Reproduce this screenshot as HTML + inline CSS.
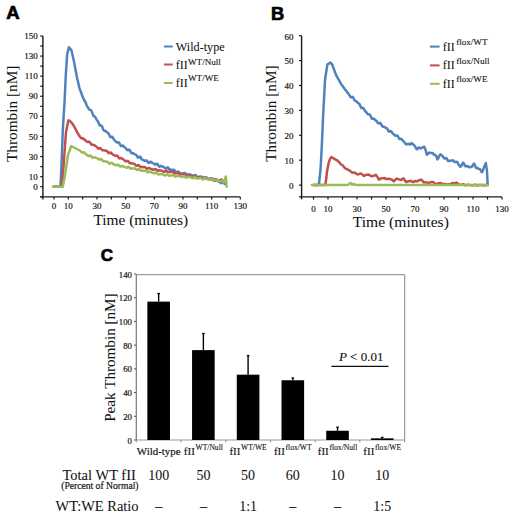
<!DOCTYPE html>
<html><head><meta charset="utf-8"><style>
html,body{margin:0;padding:0;background:#fff;width:520px;height:517px;overflow:hidden}
svg{position:absolute;left:0;top:0;display:block}
</style></head><body>
<svg width="520" height="517" viewBox="0 0 520 517">
<rect width="520" height="517" fill="#fff"/>
<text x="6.20" y="19.00" font-family="&quot;Liberation Sans&quot;, sans-serif" font-size="18.5" font-weight="bold" text-anchor="start" fill="#000" stroke="#000" stroke-width="0.7" >A</text>
<line x1="42.90" y1="36.00" x2="42.90" y2="199.40" stroke="#1a1a1a" stroke-width="1.4"/>
<line x1="40.20" y1="196.90" x2="240.29" y2="196.90" stroke="#1a1a1a" stroke-width="1.4"/>
<line x1="40.20" y1="196.75" x2="42.90" y2="196.75" stroke="#1a1a1a" stroke-width="1.2"/>
<line x1="40.20" y1="186.70" x2="42.90" y2="186.70" stroke="#1a1a1a" stroke-width="1.2"/>
<line x1="40.20" y1="176.65" x2="42.90" y2="176.65" stroke="#1a1a1a" stroke-width="1.2"/>
<line x1="40.20" y1="166.61" x2="42.90" y2="166.61" stroke="#1a1a1a" stroke-width="1.2"/>
<line x1="40.20" y1="156.56" x2="42.90" y2="156.56" stroke="#1a1a1a" stroke-width="1.2"/>
<line x1="40.20" y1="146.51" x2="42.90" y2="146.51" stroke="#1a1a1a" stroke-width="1.2"/>
<line x1="40.20" y1="136.46" x2="42.90" y2="136.46" stroke="#1a1a1a" stroke-width="1.2"/>
<line x1="40.20" y1="126.42" x2="42.90" y2="126.42" stroke="#1a1a1a" stroke-width="1.2"/>
<line x1="40.20" y1="116.37" x2="42.90" y2="116.37" stroke="#1a1a1a" stroke-width="1.2"/>
<line x1="40.20" y1="106.32" x2="42.90" y2="106.32" stroke="#1a1a1a" stroke-width="1.2"/>
<line x1="40.20" y1="96.28" x2="42.90" y2="96.28" stroke="#1a1a1a" stroke-width="1.2"/>
<line x1="40.20" y1="86.23" x2="42.90" y2="86.23" stroke="#1a1a1a" stroke-width="1.2"/>
<line x1="40.20" y1="76.18" x2="42.90" y2="76.18" stroke="#1a1a1a" stroke-width="1.2"/>
<line x1="40.20" y1="66.14" x2="42.90" y2="66.14" stroke="#1a1a1a" stroke-width="1.2"/>
<line x1="40.20" y1="56.09" x2="42.90" y2="56.09" stroke="#1a1a1a" stroke-width="1.2"/>
<line x1="40.20" y1="46.04" x2="42.90" y2="46.04" stroke="#1a1a1a" stroke-width="1.2"/>
<line x1="40.20" y1="36.00" x2="42.90" y2="36.00" stroke="#1a1a1a" stroke-width="1.2"/>
<text x="37.80" y="39.10" font-family="&quot;Liberation Serif&quot;, serif" font-size="9" font-weight="normal" text-anchor="end" fill="#111" stroke="#111" stroke-width="0.18" >150</text>
<text x="37.80" y="59.19" font-family="&quot;Liberation Serif&quot;, serif" font-size="9" font-weight="normal" text-anchor="end" fill="#111" stroke="#111" stroke-width="0.18" >130</text>
<text x="37.80" y="79.28" font-family="&quot;Liberation Serif&quot;, serif" font-size="9" font-weight="normal" text-anchor="end" fill="#111" stroke="#111" stroke-width="0.18" >110</text>
<text x="37.80" y="99.38" font-family="&quot;Liberation Serif&quot;, serif" font-size="9" font-weight="normal" text-anchor="end" fill="#111" stroke="#111" stroke-width="0.18" >90</text>
<text x="37.80" y="119.47" font-family="&quot;Liberation Serif&quot;, serif" font-size="9" font-weight="normal" text-anchor="end" fill="#111" stroke="#111" stroke-width="0.18" >70</text>
<text x="37.80" y="139.56" font-family="&quot;Liberation Serif&quot;, serif" font-size="9" font-weight="normal" text-anchor="end" fill="#111" stroke="#111" stroke-width="0.18" >50</text>
<text x="37.80" y="159.66" font-family="&quot;Liberation Serif&quot;, serif" font-size="9" font-weight="normal" text-anchor="end" fill="#111" stroke="#111" stroke-width="0.18" >30</text>
<text x="37.80" y="179.75" font-family="&quot;Liberation Serif&quot;, serif" font-size="9" font-weight="normal" text-anchor="end" fill="#111" stroke="#111" stroke-width="0.18" >10</text>
<text x="37.80" y="189.80" font-family="&quot;Liberation Serif&quot;, serif" font-size="9" font-weight="normal" text-anchor="end" fill="#111" stroke="#111" stroke-width="0.18" >0</text>
<line x1="54.00" y1="196.90" x2="54.00" y2="199.60" stroke="#1a1a1a" stroke-width="1.2"/>
<line x1="68.33" y1="196.90" x2="68.33" y2="199.60" stroke="#1a1a1a" stroke-width="1.2"/>
<line x1="82.66" y1="196.90" x2="82.66" y2="199.60" stroke="#1a1a1a" stroke-width="1.2"/>
<line x1="96.99" y1="196.90" x2="96.99" y2="199.60" stroke="#1a1a1a" stroke-width="1.2"/>
<line x1="111.32" y1="196.90" x2="111.32" y2="199.60" stroke="#1a1a1a" stroke-width="1.2"/>
<line x1="125.65" y1="196.90" x2="125.65" y2="199.60" stroke="#1a1a1a" stroke-width="1.2"/>
<line x1="139.98" y1="196.90" x2="139.98" y2="199.60" stroke="#1a1a1a" stroke-width="1.2"/>
<line x1="154.31" y1="196.90" x2="154.31" y2="199.60" stroke="#1a1a1a" stroke-width="1.2"/>
<line x1="168.64" y1="196.90" x2="168.64" y2="199.60" stroke="#1a1a1a" stroke-width="1.2"/>
<line x1="182.97" y1="196.90" x2="182.97" y2="199.60" stroke="#1a1a1a" stroke-width="1.2"/>
<line x1="197.30" y1="196.90" x2="197.30" y2="199.60" stroke="#1a1a1a" stroke-width="1.2"/>
<line x1="211.63" y1="196.90" x2="211.63" y2="199.60" stroke="#1a1a1a" stroke-width="1.2"/>
<line x1="225.96" y1="196.90" x2="225.96" y2="199.60" stroke="#1a1a1a" stroke-width="1.2"/>
<line x1="240.29" y1="196.90" x2="240.29" y2="199.60" stroke="#1a1a1a" stroke-width="1.2"/>
<text x="54.00" y="208.60" font-family="&quot;Liberation Serif&quot;, serif" font-size="9" font-weight="normal" text-anchor="middle" fill="#111" stroke="#111" stroke-width="0.18" >0</text>
<text x="68.33" y="208.60" font-family="&quot;Liberation Serif&quot;, serif" font-size="9" font-weight="normal" text-anchor="middle" fill="#111" stroke="#111" stroke-width="0.18" >10</text>
<text x="96.99" y="208.60" font-family="&quot;Liberation Serif&quot;, serif" font-size="9" font-weight="normal" text-anchor="middle" fill="#111" stroke="#111" stroke-width="0.18" >30</text>
<text x="125.65" y="208.60" font-family="&quot;Liberation Serif&quot;, serif" font-size="9" font-weight="normal" text-anchor="middle" fill="#111" stroke="#111" stroke-width="0.18" >50</text>
<text x="154.31" y="208.60" font-family="&quot;Liberation Serif&quot;, serif" font-size="9" font-weight="normal" text-anchor="middle" fill="#111" stroke="#111" stroke-width="0.18" >70</text>
<text x="182.97" y="208.60" font-family="&quot;Liberation Serif&quot;, serif" font-size="9" font-weight="normal" text-anchor="middle" fill="#111" stroke="#111" stroke-width="0.18" >90</text>
<text x="211.63" y="208.60" font-family="&quot;Liberation Serif&quot;, serif" font-size="9" font-weight="normal" text-anchor="middle" fill="#111" stroke="#111" stroke-width="0.18" >110</text>
<text x="240.29" y="208.60" font-family="&quot;Liberation Serif&quot;, serif" font-size="9" font-weight="normal" text-anchor="middle" fill="#111" stroke="#111" stroke-width="0.18" >130</text>
<text x="0.00" y="0.00" font-family="&quot;Liberation Serif&quot;, serif" font-size="15.3" font-weight="normal" text-anchor="start" fill="#111" stroke="#111" stroke-width="0.05" transform="translate(16.8,162.1) rotate(-90)">Thrombin [nM]</text>
<text x="93.40" y="225.00" font-family="&quot;Liberation Serif&quot;, serif" font-size="15.4" font-weight="normal" text-anchor="start" fill="#111" stroke="#111" stroke-width="0.05" >Time (minutes)</text>
<polyline points="53.90,186.70 55.00,186.70 56.10,186.70 57.20,186.70 58.30,186.70 59.40,186.70 60.50,186.70 60.55,185.67 60.60,184.63 60.64,183.60 60.69,182.57 60.74,181.53 60.79,180.50 60.83,179.47 60.88,178.43 60.93,177.40 60.98,176.37 61.02,175.33 61.07,174.30 61.12,173.27 61.17,172.23 61.21,171.20 61.26,170.17 61.31,169.13 61.36,168.10 61.40,167.07 61.45,166.03 61.50,165.00 61.54,164.00 61.57,163.00 61.61,162.00 61.65,161.00 61.69,160.00 61.72,159.00 61.76,158.00 61.80,157.00 61.83,156.00 61.87,155.00 61.91,154.00 61.95,153.00 61.98,152.00 62.02,151.00 62.06,150.00 62.09,149.00 62.13,148.00 62.17,147.00 62.21,146.00 62.24,145.00 62.28,144.00 62.32,143.00 62.35,142.00 62.39,141.00 62.43,140.00 62.47,139.00 62.50,138.00 62.54,137.00 62.58,136.00 62.61,135.00 62.65,134.00 62.69,133.00 62.73,132.00 62.76,131.00 62.80,130.00 62.86,129.00 62.92,128.00 62.99,127.00 63.05,126.00 63.11,125.00 63.17,124.00 63.23,123.00 63.30,122.00 63.36,121.00 63.42,120.00 63.48,119.00 63.54,118.00 63.61,117.00 63.67,116.00 63.73,115.00 63.79,114.00 63.86,113.00 63.92,112.00 63.98,111.00 64.04,110.00 64.10,109.00 64.17,108.00 64.23,107.00 64.29,106.00 64.35,105.00 64.41,104.00 64.48,103.00 64.54,102.00 64.60,101.00 64.65,99.99 64.69,98.98 64.74,97.98 64.78,96.97 64.83,95.96 64.88,94.95 64.92,93.95 64.97,92.94 65.02,91.93 65.06,90.92 65.11,89.92 65.15,88.91 65.20,87.90 65.25,86.89 65.29,85.88 65.34,84.88 65.38,83.87 65.43,82.86 65.48,81.85 65.52,80.85 65.57,79.84 65.62,78.83 65.66,77.82 65.71,76.82 65.75,75.81 65.80,74.80 65.87,73.75 65.94,72.71 66.01,71.66 66.08,70.62 66.15,69.58 66.22,68.53 66.29,67.48 66.36,66.44 66.43,65.39 66.50,64.35 66.57,63.30 66.64,62.26 66.71,61.21 66.78,60.17 66.85,59.12 66.92,58.08 66.99,57.03 67.06,55.99 67.13,54.95 67.20,53.90 67.48,52.80 67.77,51.70 68.05,50.60 68.33,49.50 68.62,48.40 68.90,47.30 69.55,48.07 70.20,48.85 70.85,49.62 71.50,50.40 71.72,51.42 71.95,52.43 72.17,53.45 72.40,54.47 72.62,55.48 72.85,56.50 73.08,57.52 73.30,58.53 73.53,59.55 73.75,60.57 73.98,61.58 74.20,62.60 74.39,63.60 74.57,64.60 74.76,65.60 74.94,66.60 75.13,67.60 75.31,68.60 75.50,69.60 75.69,70.60 75.87,71.60 76.06,72.60 76.24,73.60 76.43,74.60 76.61,75.60 76.80,76.60 77.04,77.63 77.27,78.65 77.51,79.68 77.75,80.71 77.98,81.74 78.22,82.76 78.45,83.79 78.69,84.82 78.93,85.85 79.16,86.87 79.40,87.90 79.75,88.86 80.10,89.82 80.45,90.78 80.80,91.74 81.15,92.70 81.50,93.66 81.85,94.62 82.20,95.58 82.55,96.54 82.90,97.50 83.38,98.47 83.86,99.43 84.33,100.40 84.81,101.37 85.29,101.62 85.77,103.02 86.24,104.35 86.72,105.46 87.20,106.40 87.85,107.27 88.50,108.37 89.15,109.39 89.80,109.86 90.45,109.91 91.10,110.25 91.75,111.49 92.40,113.38 92.95,114.96 93.50,115.91 94.05,116.27 94.60,116.47 95.15,116.96 95.70,117.85 96.25,118.92 96.80,119.89 97.41,120.70 98.02,121.63 98.63,122.93 99.24,124.37 99.85,125.40 100.46,125.68 101.07,125.59 101.68,125.88 102.29,127.03 102.90,128.76 103.68,130.26 104.45,130.76 105.22,130.90 106.00,131.43 106.75,132.16 107.51,132.55 108.26,133.03 109.02,134.34 109.77,136.12 110.52,137.14 111.28,136.96 112.03,136.65 112.78,137.38 113.54,138.91 114.29,140.17 115.05,140.86 115.80,141.56 116.67,142.34 117.55,142.54 118.42,142.23 119.29,142.93 120.16,144.87 121.04,146.11 121.91,145.81 122.78,145.51 123.65,146.30 124.53,147.29 125.40,147.90 126.28,148.86 127.16,150.07 128.05,150.22 128.93,149.58 129.81,150.07 130.69,151.95 131.57,153.28 132.45,153.30 133.34,153.34 134.22,153.99 135.10,154.44 136.00,154.78 136.90,156.09 137.80,157.54 138.70,157.47 139.60,156.64 140.50,157.17 141.40,158.79 142.30,159.72 143.20,159.96 144.10,160.49 145.00,160.89 145.97,160.34 146.93,160.66 147.90,162.36 148.87,163.04 149.83,162.03 150.80,161.70 151.77,162.61 152.73,163.20 153.70,163.56 154.66,164.43 155.61,164.52 156.57,163.65 157.52,163.99 158.48,165.81 159.43,166.65 160.39,166.08 161.34,166.00 162.30,166.56 163.27,166.70 164.23,167.29 165.20,168.57 166.17,168.63 167.13,167.44 168.10,167.55 169.07,169.11 170.03,169.80 171.00,169.58 171.96,169.86 172.91,170.02 173.87,169.77 174.82,170.61 175.78,172.33 176.73,172.59 177.69,171.55 178.64,171.65 179.60,172.88 180.69,173.36 181.78,173.64 182.86,174.06 183.95,173.19 185.04,172.97 186.12,174.76 187.21,175.35 188.30,174.29 189.38,174.33 190.45,174.84 191.53,175.05 192.60,176.08 193.68,176.39 194.75,175.07 195.83,175.18 196.90,176.89 197.99,177.15 199.07,176.65 200.16,176.84 201.25,176.59 202.34,176.96 203.43,178.55 204.51,178.43 205.60,177.07 206.67,177.64 207.75,178.85 208.82,178.96 209.90,179.25 210.97,179.23 212.05,178.40 213.12,179.18 214.20,180.90 215.19,180.78 216.17,179.93 217.16,180.39 218.14,181.23 219.13,181.62 220.11,182.49 221.10,183.17 222.27,182.05 223.43,182.07 224.60,184.04 226.00,182.35" fill="none" stroke="#4f81bd" stroke-width="2.5" stroke-linejoin="round" stroke-linecap="round"/>
<polyline points="53.90,186.70 54.91,186.70 55.92,186.70 56.94,186.70 57.95,186.70 58.96,186.70 59.98,186.70 60.99,186.70 62.00,186.70 62.08,185.67 62.15,184.65 62.23,183.62 62.31,182.59 62.38,181.57 62.46,180.54 62.54,179.51 62.62,178.48 62.69,177.46 62.77,176.43 62.85,175.40 62.92,174.38 63.00,173.35 63.08,172.32 63.15,171.30 63.23,170.27 63.31,169.24 63.38,168.22 63.46,167.19 63.54,166.16 63.62,165.13 63.69,164.11 63.77,163.08 63.85,162.05 63.92,161.03 64.00,160.00 64.07,159.00 64.14,158.00 64.21,157.00 64.29,156.00 64.36,155.00 64.43,154.00 64.50,153.00 64.57,152.00 64.64,151.00 64.71,150.00 64.79,149.00 64.86,148.00 64.93,147.00 65.00,146.00 65.07,145.00 65.14,144.00 65.21,143.00 65.29,142.00 65.36,141.00 65.43,140.00 65.50,139.00 65.57,138.00 65.64,137.00 65.71,136.00 65.79,135.00 65.86,134.00 65.93,133.00 66.00,132.00 66.20,131.02 66.40,130.03 66.60,129.05 66.80,128.07 67.00,127.08 67.20,126.10 67.40,125.12 67.60,124.13 67.80,123.15 68.00,122.17 68.20,121.18 68.40,120.20 69.45,120.85 70.50,121.50 71.17,122.33 71.85,123.15 72.53,123.97 73.20,124.80 73.76,125.84 74.32,126.88 74.88,127.92 75.44,128.96 76.00,130.00 76.50,130.92 77.00,131.83 77.50,132.75 78.00,133.67 78.50,134.58 79.00,135.50 79.80,136.20 80.60,137.66 81.40,138.34 82.20,138.19 83.00,138.35 83.95,139.24 84.90,140.16 85.85,140.69 86.80,141.50 87.75,142.10 88.70,141.81 89.58,141.86 90.46,143.13 91.35,144.53 92.23,144.83 93.11,144.65 93.99,145.04 94.87,145.71 95.75,146.15 96.64,146.88 97.52,148.07 98.40,148.64 99.36,147.98 100.32,147.93 101.28,149.19 102.24,150.13 103.20,150.17 104.16,150.36 105.12,150.68 106.08,150.62 107.04,151.09 108.00,152.46 108.97,153.16 109.94,152.60 110.91,152.62 111.88,153.72 112.85,154.53 113.82,154.95 114.79,155.63 115.76,155.87 116.73,155.52 117.70,156.15 118.67,157.76 119.64,158.40 120.61,158.00 121.58,158.21 122.55,159.00 123.52,159.49 124.49,160.24 125.46,161.29 126.43,161.35 127.40,160.81 128.36,161.40 129.32,162.82 130.28,163.30 131.24,163.13 132.20,163.40 133.16,163.68 134.12,163.76 135.08,164.63 136.04,165.84 137.00,165.80 138.00,164.99 139.00,165.45 140.00,166.53 141.00,166.83 142.00,167.03 143.00,167.35 144.00,167.03 145.00,166.98 146.09,168.27 147.18,168.94 148.26,168.10 149.35,168.04 150.44,168.72 151.52,168.97 152.61,169.57 153.70,169.88 154.77,169.04 155.85,169.13 156.93,170.53 158.00,170.83 159.07,170.31 160.15,170.48 161.23,170.61 162.30,170.84 163.39,171.83 164.48,171.86 165.56,170.75 166.65,171.01 167.74,172.07 168.82,172.08 169.91,172.00 171.00,172.01 172.07,171.61 173.15,172.15 174.22,173.46 175.30,173.24 176.38,172.43 177.45,172.95 178.53,173.62 179.60,173.83 180.69,174.38 181.78,174.22 182.86,173.54 183.95,174.42 185.04,175.64 186.12,175.25 187.21,174.89 188.30,175.32 189.38,175.47 190.45,176.06 191.53,176.89 192.60,176.29 193.68,175.67 194.75,176.73 195.83,177.58 196.90,177.34 197.99,177.34 199.07,177.28 200.16,177.08 201.25,178.07 202.34,178.81 203.43,177.88 204.51,177.53 205.60,178.44 206.67,178.77 207.75,178.87 208.82,179.11 209.90,178.49 210.97,178.30 212.05,179.57 213.12,180.04 214.20,179.17 215.24,179.09 216.28,179.55 217.32,179.68 218.36,180.24 219.40,180.68 220.44,179.86 221.48,179.45 222.52,180.58 223.56,181.24 224.60,180.78 226.00,180.88" fill="none" stroke="#c0504d" stroke-width="2.5" stroke-linejoin="round" stroke-linecap="round"/>
<polyline points="53.00,186.70 54.09,186.70 55.18,186.70 56.27,186.70 57.36,186.70 58.44,186.70 59.53,186.70 60.62,186.70 61.71,186.70 62.80,186.70 63.00,185.64 63.20,184.57 63.40,183.51 63.60,182.45 63.80,181.38 64.00,180.32 64.20,179.25 64.40,178.19 64.60,177.13 64.80,176.06 65.00,175.00 65.15,174.00 65.30,173.00 65.45,172.00 65.60,171.00 65.75,170.00 65.90,169.00 66.05,168.00 66.20,167.00 66.35,166.00 66.50,165.00 66.65,164.00 66.80,163.00 66.95,162.00 67.10,161.00 67.25,160.00 67.40,159.00 67.55,158.00 67.70,157.00 67.85,156.00 68.00,155.00 68.37,154.01 68.73,153.02 69.10,152.03 69.47,151.04 69.83,150.06 70.20,149.07 70.57,148.08 70.93,147.09 71.30,146.10 72.22,146.57 73.15,147.05 74.08,147.53 75.00,148.00 76.00,148.50 77.00,149.00 78.00,149.50 79.00,150.00 79.88,150.53 80.76,150.99 81.65,152.40 82.53,152.71 83.41,152.26 84.29,152.52 85.17,153.56 86.05,154.36 86.94,154.87 87.82,155.64 88.70,156.21 89.67,155.69 90.64,155.55 91.61,156.79 92.58,157.78 93.55,157.45 94.52,157.16 95.49,157.61 96.46,157.91 97.43,158.28 98.40,159.24 99.36,159.70 100.32,159.04 101.28,158.99 102.24,160.25 103.20,161.20 104.16,161.20 105.12,161.34 106.08,161.67 107.04,161.64 108.00,162.11 108.97,163.37 109.94,163.85 110.91,163.08 111.88,162.92 112.85,163.87 113.82,164.51 114.79,164.71 115.76,165.16 116.73,165.21 117.70,164.71 118.78,165.21 119.86,166.61 120.93,166.52 122.01,165.83 123.09,166.23 124.17,166.64 125.24,166.98 126.32,167.79 127.40,167.61 128.47,166.77 129.53,167.48 130.60,168.69 131.67,168.55 132.73,168.30 133.80,168.53 134.87,168.44 135.93,169.00 137.00,170.11 138.00,169.87 139.00,169.01 140.00,169.48 141.00,170.51 142.00,170.72 143.00,170.82 144.00,171.06 145.00,170.69 146.02,170.63 147.04,171.87 148.05,172.57 149.07,171.82 150.09,171.53 151.11,172.21 152.12,172.57 153.14,172.91 154.16,173.51 155.18,173.18 156.19,172.50 157.21,173.30 158.23,174.51 159.25,174.36 160.26,173.93 161.28,174.20 162.30,174.32 163.32,174.50 164.34,175.40 165.35,175.49 166.37,174.44 167.39,174.38 168.41,175.45 169.42,175.76 170.44,175.50 171.46,175.59 172.48,175.33 173.49,175.06 174.51,175.99 175.53,176.80 176.55,176.04 177.56,175.39 178.58,175.99 179.60,176.47 180.62,176.55 181.64,176.92 182.65,176.72 183.67,175.93 184.69,176.37 185.71,177.60 186.72,177.54 187.74,176.79 188.76,176.89 189.78,177.14 190.79,177.24 191.81,177.94 192.83,178.24 193.85,177.29 194.86,176.97 195.88,178.06 196.90,178.60 197.92,178.21 198.94,178.16 199.95,178.13 200.97,177.88 201.99,178.56 203.01,179.51 204.02,178.95 205.04,178.09 206.06,178.61 207.08,179.34 208.09,179.37 209.11,179.55 210.13,179.54 211.15,178.86 212.16,179.04 213.18,180.30 214.20,180.49 215.29,179.65 216.38,179.80 217.47,180.34 218.56,180.57 219.64,181.30 220.73,181.38 221.82,180.46 222.91,180.89 224.00,182.22 224.36,181.30 224.72,180.19 225.08,178.94 225.44,177.66 225.80,176.44 225.88,177.45 225.96,178.48 226.04,179.50 226.12,180.54 226.20,181.57 226.28,182.61 226.36,183.66 226.44,184.71 226.52,185.76 226.60,186.82" fill="none" stroke="#9bbb59" stroke-width="2.5" stroke-linejoin="round" stroke-linecap="round"/>
<line x1="163.90" y1="46.50" x2="172.70" y2="46.50" stroke="#4f81bd" stroke-width="2.0"/>
<text x="175.80" y="50.60" font-family="&quot;Liberation Serif&quot;, serif" font-size="12.2" font-weight="normal" text-anchor="start" fill="#111" stroke="#111" stroke-width="0.05" >Wild-type</text>
<line x1="163.90" y1="64.50" x2="172.70" y2="64.50" stroke="#c0504d" stroke-width="2.0"/>
<text x="175.80" y="68.60" font-family="&quot;Liberation Serif&quot;, serif" font-size="12" font-weight="normal" text-anchor="start" fill="#111" stroke="#111" stroke-width="0.05" >fII</text>
<text x="188.00" y="65.00" font-family="&quot;Liberation Serif&quot;, serif" font-size="9.1" font-weight="normal" text-anchor="start" fill="#111" stroke="#111" stroke-width="0.12" >WT/Null</text>
<line x1="163.90" y1="83.00" x2="172.70" y2="83.00" stroke="#9bbb59" stroke-width="2.0"/>
<text x="175.80" y="86.60" font-family="&quot;Liberation Serif&quot;, serif" font-size="12" font-weight="normal" text-anchor="start" fill="#111" stroke="#111" stroke-width="0.05" >fII</text>
<text x="188.00" y="80.80" font-family="&quot;Liberation Serif&quot;, serif" font-size="9.1" font-weight="normal" text-anchor="start" fill="#111" stroke="#111" stroke-width="0.12" >WT/WE</text>
<text x="271.10" y="19.90" font-family="&quot;Liberation Sans&quot;, sans-serif" font-size="18.3" font-weight="bold" text-anchor="start" fill="#000" stroke="#000" stroke-width="0.7" >B</text>
<line x1="301.60" y1="35.70" x2="301.60" y2="199.40" stroke="#1a1a1a" stroke-width="1.4"/>
<line x1="299.00" y1="196.90" x2="502.00" y2="196.90" stroke="#1a1a1a" stroke-width="1.4"/>
<line x1="299.00" y1="185.10" x2="301.60" y2="185.10" stroke="#1a1a1a" stroke-width="1.2"/>
<text x="293.60" y="188.90" font-family="&quot;Liberation Serif&quot;, serif" font-size="9" font-weight="normal" text-anchor="end" fill="#111" stroke="#111" stroke-width="0.18" >0</text>
<line x1="299.00" y1="160.20" x2="301.60" y2="160.20" stroke="#1a1a1a" stroke-width="1.2"/>
<text x="293.60" y="164.00" font-family="&quot;Liberation Serif&quot;, serif" font-size="9" font-weight="normal" text-anchor="end" fill="#111" stroke="#111" stroke-width="0.18" >10</text>
<line x1="299.00" y1="135.30" x2="301.60" y2="135.30" stroke="#1a1a1a" stroke-width="1.2"/>
<text x="293.60" y="139.10" font-family="&quot;Liberation Serif&quot;, serif" font-size="9" font-weight="normal" text-anchor="end" fill="#111" stroke="#111" stroke-width="0.18" >20</text>
<line x1="299.00" y1="110.40" x2="301.60" y2="110.40" stroke="#1a1a1a" stroke-width="1.2"/>
<text x="293.60" y="114.20" font-family="&quot;Liberation Serif&quot;, serif" font-size="9" font-weight="normal" text-anchor="end" fill="#111" stroke="#111" stroke-width="0.18" >30</text>
<line x1="299.00" y1="85.50" x2="301.60" y2="85.50" stroke="#1a1a1a" stroke-width="1.2"/>
<text x="293.60" y="89.30" font-family="&quot;Liberation Serif&quot;, serif" font-size="9" font-weight="normal" text-anchor="end" fill="#111" stroke="#111" stroke-width="0.18" >40</text>
<line x1="299.00" y1="60.60" x2="301.60" y2="60.60" stroke="#1a1a1a" stroke-width="1.2"/>
<text x="293.60" y="64.40" font-family="&quot;Liberation Serif&quot;, serif" font-size="9" font-weight="normal" text-anchor="end" fill="#111" stroke="#111" stroke-width="0.18" >50</text>
<line x1="299.00" y1="35.70" x2="301.60" y2="35.70" stroke="#1a1a1a" stroke-width="1.2"/>
<text x="293.60" y="39.50" font-family="&quot;Liberation Serif&quot;, serif" font-size="9" font-weight="normal" text-anchor="end" fill="#111" stroke="#111" stroke-width="0.18" >60</text>
<line x1="313.50" y1="196.90" x2="313.50" y2="199.60" stroke="#1a1a1a" stroke-width="1.2"/>
<line x1="328.00" y1="196.90" x2="328.00" y2="199.60" stroke="#1a1a1a" stroke-width="1.2"/>
<line x1="342.50" y1="196.90" x2="342.50" y2="199.60" stroke="#1a1a1a" stroke-width="1.2"/>
<line x1="357.00" y1="196.90" x2="357.00" y2="199.60" stroke="#1a1a1a" stroke-width="1.2"/>
<line x1="371.50" y1="196.90" x2="371.50" y2="199.60" stroke="#1a1a1a" stroke-width="1.2"/>
<line x1="386.00" y1="196.90" x2="386.00" y2="199.60" stroke="#1a1a1a" stroke-width="1.2"/>
<line x1="400.50" y1="196.90" x2="400.50" y2="199.60" stroke="#1a1a1a" stroke-width="1.2"/>
<line x1="415.00" y1="196.90" x2="415.00" y2="199.60" stroke="#1a1a1a" stroke-width="1.2"/>
<line x1="429.50" y1="196.90" x2="429.50" y2="199.60" stroke="#1a1a1a" stroke-width="1.2"/>
<line x1="444.00" y1="196.90" x2="444.00" y2="199.60" stroke="#1a1a1a" stroke-width="1.2"/>
<line x1="458.50" y1="196.90" x2="458.50" y2="199.60" stroke="#1a1a1a" stroke-width="1.2"/>
<line x1="473.00" y1="196.90" x2="473.00" y2="199.60" stroke="#1a1a1a" stroke-width="1.2"/>
<line x1="487.50" y1="196.90" x2="487.50" y2="199.60" stroke="#1a1a1a" stroke-width="1.2"/>
<line x1="502.00" y1="196.90" x2="502.00" y2="199.60" stroke="#1a1a1a" stroke-width="1.2"/>
<text x="313.50" y="211.80" font-family="&quot;Liberation Serif&quot;, serif" font-size="9" font-weight="normal" text-anchor="middle" fill="#111" stroke="#111" stroke-width="0.18" >0</text>
<text x="328.00" y="211.80" font-family="&quot;Liberation Serif&quot;, serif" font-size="9" font-weight="normal" text-anchor="middle" fill="#111" stroke="#111" stroke-width="0.18" >10</text>
<text x="357.00" y="211.80" font-family="&quot;Liberation Serif&quot;, serif" font-size="9" font-weight="normal" text-anchor="middle" fill="#111" stroke="#111" stroke-width="0.18" >30</text>
<text x="386.00" y="211.80" font-family="&quot;Liberation Serif&quot;, serif" font-size="9" font-weight="normal" text-anchor="middle" fill="#111" stroke="#111" stroke-width="0.18" >50</text>
<text x="415.00" y="211.80" font-family="&quot;Liberation Serif&quot;, serif" font-size="9" font-weight="normal" text-anchor="middle" fill="#111" stroke="#111" stroke-width="0.18" >70</text>
<text x="444.00" y="211.80" font-family="&quot;Liberation Serif&quot;, serif" font-size="9" font-weight="normal" text-anchor="middle" fill="#111" stroke="#111" stroke-width="0.18" >90</text>
<text x="473.00" y="211.80" font-family="&quot;Liberation Serif&quot;, serif" font-size="9" font-weight="normal" text-anchor="middle" fill="#111" stroke="#111" stroke-width="0.18" >110</text>
<text x="502.00" y="211.80" font-family="&quot;Liberation Serif&quot;, serif" font-size="9" font-weight="normal" text-anchor="middle" fill="#111" stroke="#111" stroke-width="0.18" >130</text>
<text x="0.00" y="0.00" font-family="&quot;Liberation Serif&quot;, serif" font-size="15.3" font-weight="normal" text-anchor="start" fill="#111" stroke="#111" stroke-width="0.05" transform="translate(275.6,161.8) rotate(-90)">Thrombin [nM]</text>
<text x="352.80" y="226.70" font-family="&quot;Liberation Serif&quot;, serif" font-size="15.6" font-weight="normal" text-anchor="start" fill="#111" stroke="#111" stroke-width="0.05" >Time (minutes)</text>
<polyline points="313.50,185.10 314.56,185.10 315.62,185.10 316.68,185.10 317.74,185.10 318.80,185.10 318.91,184.09 319.03,183.09 319.14,182.08 319.25,181.07 319.37,180.07 319.48,179.06 319.59,178.05 319.71,177.05 319.82,176.04 319.93,175.03 320.05,174.03 320.16,173.02 320.27,172.01 320.39,171.01 320.50,170.00 320.56,169.00 320.61,168.00 320.67,167.00 320.72,166.00 320.77,165.00 320.83,164.00 320.88,163.00 320.94,162.00 321.00,161.00 321.05,160.00 321.11,159.00 321.16,158.00 321.22,157.00 321.27,156.00 321.33,155.00 321.38,154.00 321.44,153.00 321.49,152.00 321.55,151.00 321.60,150.00 321.65,149.00 321.69,148.00 321.74,147.00 321.78,146.00 321.83,145.00 321.87,144.00 321.92,143.00 321.96,142.00 322.01,141.00 322.05,140.00 322.10,139.00 322.14,138.00 322.19,137.00 322.23,136.00 322.28,135.00 322.32,134.00 322.37,133.00 322.41,132.00 322.46,131.00 322.50,130.00 322.55,129.00 322.60,128.00 322.64,127.00 322.69,126.00 322.73,125.00 322.78,124.00 322.82,123.00 322.87,122.00 322.91,121.00 322.96,120.00 323.00,119.00 323.05,118.00 323.09,117.00 323.14,116.00 323.18,115.00 323.23,114.00 323.27,113.00 323.32,112.00 323.36,111.00 323.41,110.00 323.45,109.00 323.50,108.00 323.56,107.00 323.61,106.00 323.67,105.00 323.72,104.00 323.78,103.00 323.83,102.00 323.89,101.00 323.94,100.00 324.00,99.00 324.05,98.00 324.11,97.00 324.16,96.00 324.22,95.00 324.27,94.00 324.33,93.00 324.38,92.00 324.44,91.00 324.49,90.00 324.55,89.00 324.60,88.00 324.66,87.00 324.71,86.00 324.77,85.00 324.82,84.00 324.88,83.00 324.93,82.00 324.99,81.00 325.04,80.00 325.10,79.00 325.26,77.96 325.43,76.93 325.59,75.89 325.76,74.86 325.92,73.82 326.09,72.79 326.25,71.75 326.41,70.71 326.58,69.68 326.74,68.64 326.91,67.61 327.07,66.57 327.24,65.54 327.40,64.50 328.37,63.87 329.33,63.23 330.30,62.60 331.25,63.55 332.20,64.50 332.55,65.46 332.91,66.43 333.26,67.39 333.62,68.35 333.97,69.32 334.33,70.28 334.68,71.25 335.04,72.21 335.39,73.17 335.75,74.14 336.10,75.10 336.64,76.07 337.19,77.03 337.73,78.00 338.28,78.97 338.82,79.93 339.37,80.90 339.91,81.87 340.46,82.83 341.00,83.80 341.59,84.62 342.18,85.45 342.78,86.27 343.37,87.09 343.96,87.92 344.55,88.74 345.15,89.90 345.74,90.20 346.33,90.84 346.92,91.75 347.52,92.63 348.11,93.34 348.70,94.11 349.47,95.25 350.24,96.68 351.01,97.37 351.78,97.06 352.55,96.87 353.32,97.84 354.09,99.47 354.86,100.59 355.63,100.99 356.40,101.39 357.11,102.18 357.82,102.83 358.53,103.15 359.24,103.69 359.95,105.01 360.65,106.76 361.36,107.92 362.07,108.06 362.78,107.87 363.49,108.35 364.20,109.60 364.97,110.92 365.74,111.75 366.51,112.51 367.28,113.54 368.05,114.29 368.82,114.33 369.59,114.39 370.36,115.50 371.13,117.39 371.90,118.73 372.76,118.72 373.61,118.55 374.47,119.21 375.32,120.10 376.18,120.69 377.03,121.62 377.89,122.96 378.74,123.53 379.60,123.04 380.47,123.05 381.33,124.53 382.20,126.14 383.07,126.64 383.93,126.74 384.80,127.29 385.67,127.82 386.53,128.04 387.40,128.92 388.26,130.61 389.11,131.61 389.97,131.25 390.82,130.95 391.68,131.94 392.53,133.39 393.39,134.17 394.24,134.68 395.10,135.46 396.08,135.81 397.06,135.53 398.04,136.46 399.02,138.46 400.00,139.13 400.77,138.85 401.54,138.98 402.31,139.89 403.08,140.89 403.85,141.58 404.62,142.40 405.39,143.57 406.16,144.38 406.93,144.28 407.70,144.02 408.65,143.82 409.60,144.61 410.55,144.25 411.50,142.97 412.23,143.48 412.95,144.26 413.68,144.86 414.40,145.39 415.12,146.42 415.85,147.94 416.57,149.10 417.30,149.23 418.42,147.51 419.53,147.80 420.65,148.39 421.77,147.77 422.88,147.43 424.00,146.69 424.41,147.30 424.83,148.02 425.24,148.98 425.66,150.27 426.07,151.79 426.49,153.35 426.90,154.72 428.06,153.82 429.22,152.51 430.38,152.92 431.54,152.99 432.70,153.02 433.39,154.15 434.07,154.80 434.76,154.86 435.44,155.00 436.13,156.01 436.81,157.78 437.50,159.40 438.23,158.31 438.95,156.61 439.67,155.18 440.40,154.28 441.24,155.01 442.09,155.53 442.93,156.55 443.78,157.98 444.62,158.57 445.47,158.07 446.31,158.03 447.16,159.38 448.00,160.96 449.00,160.99 450.00,160.68 451.00,160.77 452.00,160.39 453.00,160.30 454.00,161.56 455.00,162.25 456.15,161.68 457.30,162.13 458.02,163.63 458.75,164.90 459.48,165.75 460.20,166.64 460.93,166.13 461.65,165.32 462.38,163.91 463.10,162.53 464.07,163.84 465.03,165.92 466.00,166.51 467.17,165.89 468.33,166.62 469.50,167.32 470.42,166.89 471.34,167.02 472.26,166.43 473.18,164.65 474.10,163.54 474.90,165.36 475.70,167.24 476.50,168.15 477.47,168.09 478.43,168.59 479.40,169.02 480.17,169.46 480.93,170.48 481.70,172.15 482.28,171.72 482.86,170.62 483.44,168.94 484.02,167.22 484.60,166.02 484.90,165.11 485.20,164.34 485.50,163.64 485.80,162.93 485.98,164.15 486.17,165.34 486.35,166.49 486.53,167.59 486.72,168.66 486.90,169.70 486.95,170.74 487.01,171.78 487.06,172.82 487.11,173.86 487.17,174.90 487.22,175.94 487.27,176.98 487.33,178.02 487.38,179.06 487.43,180.10 487.49,181.14 487.54,182.19 487.59,183.23 487.65,184.28 487.70,185.32" fill="none" stroke="#4f81bd" stroke-width="2.5" stroke-linejoin="round" stroke-linecap="round"/>
<polyline points="313.50,185.10 314.58,185.10 315.66,185.10 316.75,185.10 317.83,185.10 318.91,185.10 319.99,185.10 321.07,185.10 322.15,185.10 323.24,185.10 324.32,185.10 325.40,185.10 325.53,184.09 325.66,183.07 325.79,182.06 325.91,181.04 326.04,180.03 326.17,179.01 326.30,178.00 326.41,177.00 326.53,176.00 326.64,175.00 326.76,174.00 326.87,173.00 326.99,172.00 327.10,171.00 327.31,169.91 327.53,168.82 327.74,167.74 327.95,166.65 328.16,165.56 328.38,164.48 328.59,163.39 328.80,162.30 329.15,161.35 329.50,160.40 329.85,159.45 330.20,158.50 331.40,157.10 332.27,157.60 333.14,158.10 334.01,158.60 334.89,159.10 335.76,159.60 336.63,160.10 337.50,160.60 338.27,161.37 339.03,162.13 339.80,162.90 340.57,164.03 341.33,164.64 342.10,164.98 342.87,165.47 343.63,166.42 344.40,167.64 345.26,168.43 346.12,168.77 346.99,169.06 347.85,169.57 348.71,170.09 349.57,170.50 350.44,171.07 351.30,171.98 352.30,172.64 353.30,172.60 354.30,172.47 355.30,173.02 356.30,173.82 357.30,174.22 358.30,174.49 360.00,173.53 361.05,173.69 362.10,174.27 363.15,175.39 364.20,176.04 365.27,175.21 366.35,174.72 367.43,174.71 368.50,174.52 369.55,175.11 370.60,175.85 371.65,176.17 372.70,176.18 373.77,175.59 374.83,175.51 375.90,174.85 376.42,175.53 376.93,176.21 377.45,176.99 377.97,177.88 378.48,178.80 379.00,179.70 380.07,178.92 381.13,178.44 382.20,178.13 383.27,178.22 384.33,178.00 385.40,178.50 386.45,179.01 387.50,179.04 388.55,178.85 389.60,178.84 390.65,179.19 391.70,179.49 392.75,180.38 393.80,181.39 394.87,180.39 395.93,179.15 397.00,178.55 398.07,179.12 399.15,179.38 400.23,179.71 401.30,180.02 402.35,179.10 403.40,178.34 404.17,179.43 404.95,180.67 405.73,181.58 406.50,182.08 407.57,181.43 408.65,181.25 409.73,181.06 410.80,180.83 411.83,181.49 412.87,181.93 413.90,181.74 414.97,181.08 416.03,181.21 417.10,181.25 418.15,180.76 419.20,180.32 420.25,180.03 421.30,179.56 422.03,180.21 422.77,181.15 423.50,182.24 424.55,182.59 425.60,182.27 426.65,182.31 427.70,182.97 428.75,182.90 429.80,182.55 430.85,182.34 431.90,181.95 432.97,182.05 434.05,182.67 435.12,183.82 436.20,184.39 437.25,183.62 438.30,183.22 439.35,183.18 440.40,182.97 441.45,183.45 442.50,184.09 443.55,184.24 444.60,184.07 445.67,184.11 446.73,184.62 447.80,184.57 448.87,184.13 449.93,183.99 451.00,183.88 452.05,183.26 453.10,183.06 454.17,183.46 455.23,183.12 456.30,182.56 457.33,183.23 458.37,184.18 459.40,184.70 460.46,184.64 461.52,184.72 462.58,184.52 463.64,184.35 464.70,184.83 465.76,185.35 466.82,185.08 467.88,184.65 468.94,184.83 470.00,185.13 471.03,185.14 472.06,185.28 473.09,185.38 474.12,184.97 475.15,184.61 476.18,185.01 477.21,185.52 478.24,185.34 479.26,184.96 480.29,184.96 481.32,184.99 482.35,184.94 483.38,185.23 484.41,185.53 485.44,185.17 486.47,184.64 487.50,184.83" fill="none" stroke="#c0504d" stroke-width="2.5" stroke-linejoin="round" stroke-linecap="round"/>
<polyline points="312.00,185.10 347.00,185.10 349.00,184.20 350.50,182.80 352.00,184.80 354.00,184.00 356.00,185.10 487.50,185.10" fill="none" stroke="#9bbb59" stroke-width="2.5" stroke-linejoin="round" stroke-linecap="round"/>
<line x1="429.90" y1="46.60" x2="439.60" y2="46.60" stroke="#4f81bd" stroke-width="2.0"/>
<text x="442.80" y="50.80" font-family="&quot;Liberation Serif&quot;, serif" font-size="12" font-weight="normal" text-anchor="start" fill="#111" stroke="#111" stroke-width="0.05" >fII</text>
<text x="456.20" y="45.40" font-family="&quot;Liberation Serif&quot;, serif" font-size="9.1" font-weight="normal" text-anchor="start" fill="#111" stroke="#111" stroke-width="0.12" >flox/WT</text>
<line x1="429.90" y1="65.40" x2="439.60" y2="65.40" stroke="#c0504d" stroke-width="2.0"/>
<text x="442.80" y="69.20" font-family="&quot;Liberation Serif&quot;, serif" font-size="12" font-weight="normal" text-anchor="start" fill="#111" stroke="#111" stroke-width="0.05" >fII</text>
<text x="456.20" y="63.80" font-family="&quot;Liberation Serif&quot;, serif" font-size="9.1" font-weight="normal" text-anchor="start" fill="#111" stroke="#111" stroke-width="0.12" >flox/Null</text>
<line x1="429.90" y1="83.80" x2="439.60" y2="83.80" stroke="#9bbb59" stroke-width="2.0"/>
<text x="442.80" y="87.70" font-family="&quot;Liberation Serif&quot;, serif" font-size="12" font-weight="normal" text-anchor="start" fill="#111" stroke="#111" stroke-width="0.05" >fII</text>
<text x="456.20" y="82.30" font-family="&quot;Liberation Serif&quot;, serif" font-size="9.1" font-weight="normal" text-anchor="start" fill="#111" stroke="#111" stroke-width="0.12" >flox/WE</text>
<text x="100.80" y="261.00" font-family="&quot;Liberation Sans&quot;, sans-serif" font-size="17" font-weight="bold" text-anchor="start" fill="#000" stroke="#000" stroke-width="0.7" >C</text>
<line x1="136.30" y1="274.60" x2="404.60" y2="274.60" stroke="#9a9a9a" stroke-width="1.2"/>
<line x1="404.60" y1="274.60" x2="404.60" y2="440.00" stroke="#9a9a9a" stroke-width="1.2"/>
<line x1="136.30" y1="440.00" x2="404.60" y2="440.00" stroke="#9a9a9a" stroke-width="1.2"/>
<line x1="136.30" y1="274.60" x2="136.30" y2="440.00" stroke="#777" stroke-width="1.2"/>
<line x1="134.00" y1="440.00" x2="136.30" y2="440.00" stroke="#555" stroke-width="1.0"/>
<text x="132.00" y="443.50" font-family="&quot;Liberation Serif&quot;, serif" font-size="8.8" font-weight="normal" text-anchor="end" fill="#111" stroke="#111" stroke-width="0.2" >0</text>
<line x1="134.00" y1="416.29" x2="136.30" y2="416.29" stroke="#555" stroke-width="1.0"/>
<text x="132.00" y="419.79" font-family="&quot;Liberation Serif&quot;, serif" font-size="8.8" font-weight="normal" text-anchor="end" fill="#111" stroke="#111" stroke-width="0.2" >20</text>
<line x1="134.00" y1="392.57" x2="136.30" y2="392.57" stroke="#555" stroke-width="1.0"/>
<text x="132.00" y="396.07" font-family="&quot;Liberation Serif&quot;, serif" font-size="8.8" font-weight="normal" text-anchor="end" fill="#111" stroke="#111" stroke-width="0.2" >40</text>
<line x1="134.00" y1="368.86" x2="136.30" y2="368.86" stroke="#555" stroke-width="1.0"/>
<text x="132.00" y="372.36" font-family="&quot;Liberation Serif&quot;, serif" font-size="8.8" font-weight="normal" text-anchor="end" fill="#111" stroke="#111" stroke-width="0.2" >60</text>
<line x1="134.00" y1="345.14" x2="136.30" y2="345.14" stroke="#555" stroke-width="1.0"/>
<text x="132.00" y="348.64" font-family="&quot;Liberation Serif&quot;, serif" font-size="8.8" font-weight="normal" text-anchor="end" fill="#111" stroke="#111" stroke-width="0.2" >80</text>
<line x1="134.00" y1="321.43" x2="136.30" y2="321.43" stroke="#555" stroke-width="1.0"/>
<text x="132.00" y="324.93" font-family="&quot;Liberation Serif&quot;, serif" font-size="8.8" font-weight="normal" text-anchor="end" fill="#111" stroke="#111" stroke-width="0.2" >100</text>
<line x1="134.00" y1="297.72" x2="136.30" y2="297.72" stroke="#555" stroke-width="1.0"/>
<text x="132.00" y="301.22" font-family="&quot;Liberation Serif&quot;, serif" font-size="8.8" font-weight="normal" text-anchor="end" fill="#111" stroke="#111" stroke-width="0.2" >120</text>
<line x1="134.00" y1="274.00" x2="136.30" y2="274.00" stroke="#555" stroke-width="1.0"/>
<text x="132.00" y="277.50" font-family="&quot;Liberation Serif&quot;, serif" font-size="8.8" font-weight="normal" text-anchor="end" fill="#111" stroke="#111" stroke-width="0.2" >140</text>
<line x1="136.30" y1="440.00" x2="136.30" y2="442.30" stroke="#888" stroke-width="1.0"/>
<line x1="181.02" y1="440.00" x2="181.02" y2="442.30" stroke="#888" stroke-width="1.0"/>
<line x1="225.73" y1="440.00" x2="225.73" y2="442.30" stroke="#888" stroke-width="1.0"/>
<line x1="270.45" y1="440.00" x2="270.45" y2="442.30" stroke="#888" stroke-width="1.0"/>
<line x1="315.17" y1="440.00" x2="315.17" y2="442.30" stroke="#888" stroke-width="1.0"/>
<line x1="359.88" y1="440.00" x2="359.88" y2="442.30" stroke="#888" stroke-width="1.0"/>
<line x1="404.60" y1="440.00" x2="404.60" y2="442.30" stroke="#888" stroke-width="1.0"/>
<rect x="147.36" y="301.63" width="22.6" height="138.37" fill="#000"/>
<line x1="158.66" y1="293.57" x2="158.66" y2="301.63" stroke="#000" stroke-width="1.4"/>
<line x1="157.36" y1="293.57" x2="159.96" y2="293.57" stroke="#000" stroke-width="1.3"/>
<rect x="192.07" y="350.12" width="22.6" height="89.88" fill="#000"/>
<line x1="203.38" y1="333.52" x2="203.38" y2="350.12" stroke="#000" stroke-width="1.4"/>
<line x1="202.07" y1="333.52" x2="204.68" y2="333.52" stroke="#000" stroke-width="1.3"/>
<rect x="236.79" y="374.67" width="22.6" height="65.33" fill="#000"/>
<line x1="248.09" y1="355.58" x2="248.09" y2="374.67" stroke="#000" stroke-width="1.4"/>
<line x1="246.79" y1="355.58" x2="249.39" y2="355.58" stroke="#000" stroke-width="1.3"/>
<rect x="281.51" y="380.24" width="22.6" height="59.76" fill="#000"/>
<line x1="292.81" y1="377.99" x2="292.81" y2="380.24" stroke="#000" stroke-width="1.4"/>
<line x1="291.51" y1="377.99" x2="294.11" y2="377.99" stroke="#000" stroke-width="1.3"/>
<rect x="326.23" y="430.75" width="22.6" height="9.25" fill="#000"/>
<line x1="337.53" y1="427.19" x2="337.53" y2="430.75" stroke="#000" stroke-width="1.4"/>
<line x1="336.23" y1="427.19" x2="338.83" y2="427.19" stroke="#000" stroke-width="1.3"/>
<rect x="370.94" y="438.34" width="22.6" height="1.66" fill="#000"/>
<line x1="382.24" y1="437.39" x2="382.24" y2="438.34" stroke="#000" stroke-width="1.4"/>
<line x1="380.94" y1="437.39" x2="383.54" y2="437.39" stroke="#000" stroke-width="1.3"/>
<text x="0.00" y="0.00" font-family="&quot;Liberation Serif&quot;, serif" font-size="15.15" font-weight="normal" text-anchor="start" fill="#111" stroke="#111" stroke-width="0.05" transform="translate(115.2,421.8) rotate(-90)">Peak Thrombin [nM]</text>
<text x="158.66" y="455.30" font-family="&quot;Liberation Serif&quot;, serif" font-size="10.9" font-weight="normal" text-anchor="middle" fill="#111" stroke="#111" stroke-width="0.18" >Wild-type</text>
<text x="203.38" y="455.4" font-family="&quot;Liberation Serif&quot;, serif" font-size="11" text-anchor="middle" fill="#111" stroke="#111" stroke-width="0.12">fII<tspan font-size="7.6" dy="-5.0" dx="0.6" stroke-width="0.1">WT/Null</tspan></text>
<text x="248.09" y="455.4" font-family="&quot;Liberation Serif&quot;, serif" font-size="11" text-anchor="middle" fill="#111" stroke="#111" stroke-width="0.12">fII<tspan font-size="7.6" dy="-5.0" dx="0.6" stroke-width="0.1">WT/WE</tspan></text>
<text x="292.81" y="455.4" font-family="&quot;Liberation Serif&quot;, serif" font-size="11" text-anchor="middle" fill="#111" stroke="#111" stroke-width="0.12">fII<tspan font-size="7.6" dy="-5.0" dx="0.6" stroke-width="0.1">flox/WT</tspan></text>
<text x="337.53" y="455.4" font-family="&quot;Liberation Serif&quot;, serif" font-size="11" text-anchor="middle" fill="#111" stroke="#111" stroke-width="0.12">fII<tspan font-size="7.6" dy="-5.0" dx="0.6" stroke-width="0.1">flox/Null</tspan></text>
<text x="382.24" y="455.4" font-family="&quot;Liberation Serif&quot;, serif" font-size="11" text-anchor="middle" fill="#111" stroke="#111" stroke-width="0.12">fII<tspan font-size="7.6" dy="-5.0" dx="0.6" stroke-width="0.1">flox/WE</tspan></text>
<text x="338.9" y="360.7" font-family="&quot;Liberation Serif&quot;, serif" font-size="13" fill="#111" stroke="#111" stroke-width="0.12"><tspan font-style="italic">P</tspan> &lt; 0.01</text>
<line x1="331.40" y1="366.30" x2="388.50" y2="366.30" stroke="#111" stroke-width="1.3"/>
<text x="62.50" y="480.00" font-family="&quot;Liberation Serif&quot;, serif" font-size="14.5" font-weight="normal" text-anchor="start" fill="#111" stroke="#111" stroke-width="0.05" >Total WT fII</text>
<text x="61.25" y="488.50" font-family="&quot;Liberation Serif&quot;, serif" font-size="9.6" font-weight="normal" text-anchor="start" fill="#111" stroke="#111" stroke-width="0.18" >(Percent of Normal)</text>
<text x="55.50" y="510.60" font-family="&quot;Liberation Serif&quot;, serif" font-size="14.45" font-weight="normal" text-anchor="start" fill="#111" stroke="#111" stroke-width="0.05" >WT:WE Ratio</text>
<text x="158.66" y="480.00" font-family="&quot;Liberation Serif&quot;, serif" font-size="14" font-weight="normal" text-anchor="middle" fill="#111" stroke="#111" stroke-width="0.05" >100</text>
<text x="158.66" y="510.60" font-family="&quot;Liberation Serif&quot;, serif" font-size="14" font-weight="normal" text-anchor="middle" fill="#111" stroke="#111" stroke-width="0.05" >&#8211;</text>
<text x="203.38" y="480.00" font-family="&quot;Liberation Serif&quot;, serif" font-size="14" font-weight="normal" text-anchor="middle" fill="#111" stroke="#111" stroke-width="0.05" >50</text>
<text x="203.38" y="510.60" font-family="&quot;Liberation Serif&quot;, serif" font-size="14" font-weight="normal" text-anchor="middle" fill="#111" stroke="#111" stroke-width="0.05" >&#8211;</text>
<text x="248.09" y="480.00" font-family="&quot;Liberation Serif&quot;, serif" font-size="14" font-weight="normal" text-anchor="middle" fill="#111" stroke="#111" stroke-width="0.05" >50</text>
<text x="248.09" y="510.60" font-family="&quot;Liberation Serif&quot;, serif" font-size="14" font-weight="normal" text-anchor="middle" fill="#111" stroke="#111" stroke-width="0.05" >1:1</text>
<text x="292.81" y="480.00" font-family="&quot;Liberation Serif&quot;, serif" font-size="14" font-weight="normal" text-anchor="middle" fill="#111" stroke="#111" stroke-width="0.05" >60</text>
<text x="292.81" y="510.60" font-family="&quot;Liberation Serif&quot;, serif" font-size="14" font-weight="normal" text-anchor="middle" fill="#111" stroke="#111" stroke-width="0.05" >&#8211;</text>
<text x="337.53" y="480.00" font-family="&quot;Liberation Serif&quot;, serif" font-size="14" font-weight="normal" text-anchor="middle" fill="#111" stroke="#111" stroke-width="0.05" >10</text>
<text x="337.53" y="510.60" font-family="&quot;Liberation Serif&quot;, serif" font-size="14" font-weight="normal" text-anchor="middle" fill="#111" stroke="#111" stroke-width="0.05" >&#8211;</text>
<text x="382.24" y="480.00" font-family="&quot;Liberation Serif&quot;, serif" font-size="14" font-weight="normal" text-anchor="middle" fill="#111" stroke="#111" stroke-width="0.05" >10</text>
<text x="382.24" y="510.60" font-family="&quot;Liberation Serif&quot;, serif" font-size="14" font-weight="normal" text-anchor="middle" fill="#111" stroke="#111" stroke-width="0.05" >1:5</text>
</svg>
</body></html>
